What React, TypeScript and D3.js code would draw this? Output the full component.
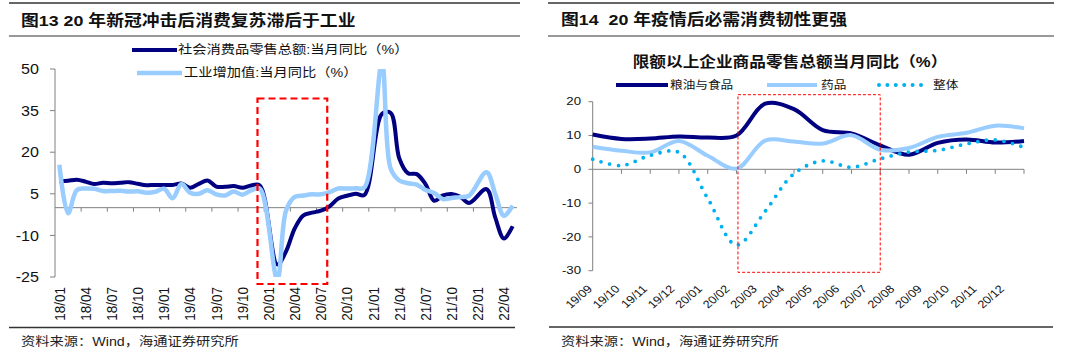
import React from "react";
import * as d3 from "d3";

// ---------- data: left chart ----------
const leftMonths = [
  "18/01","18/02","18/03","18/04","18/05","18/06","18/07","18/08","18/09","18/10","18/11","18/12",
  "19/01","19/02","19/03","19/04","19/05","19/06","19/07","19/08","19/09","19/10","19/11","19/12",
  "20/01","20/02","20/03","20/04","20/05","20/06","20/07","20/08","20/09","20/10","20/11","20/12",
  "21/01","21/02","21/03","21/04","21/05","21/06","21/07","21/08","21/09","21/10","21/11","21/12",
  "22/01","22/02","22/03","22/04","22/05",
];
const retailYoY: (number | null)[] = [
  9.4, 9.7, 10.1, 9.4, 8.5, 9.0, 8.8, 9.0, 9.2, 8.6, 8.1, 8.2,
  null, 8.2, 8.7, 7.2, 8.6, 9.8, 7.6, 7.5, 7.8, 7.2, 8.0, 8.0,
  null, -20.5, -15.8, -7.5, -2.8, -1.8, -1.1, 0.5, 3.3, 4.3, 5.0, 4.6,
  null, 33.8, 34.2, 17.7, 12.4, 12.1, 8.5, 2.5, 4.4, 4.9, 3.9, 1.7,
  null, 6.7, -3.5, -11.1, -6.7,
];
const industryYoY: (number | null)[] = [
  15.5, -2.0, 6.3, 6.9, 6.8, 6.0, 6.0, 6.1, 5.8, 5.9, 5.4, 5.7,
  6.8, 3.4, 8.5, 5.4, 5.0, 6.3, 4.8, 4.4, 5.8, 4.7, 6.2, 6.9,
  null, -25.9, -1.1, 3.9, 4.4, 4.8, 4.8, 5.6, 6.9, 6.9, 7.0, 7.3,
  null, 52.0, 14.1, 9.8, 8.8, 8.3, 6.4, 5.3, 3.1, 3.5, 3.8, 4.3,
  null, 12.8, 5.0, -2.9, 0.7,
];
const leftXTickLabels = [
  "18/01","18/04","18/07","18/10","19/01","19/04","19/07","19/10",
  "20/01","20/04","20/07","20/10","21/01","21/04","21/07","21/10","22/01","22/04",
];
const leftYTicks = [50, 35, 20, 5, -10, -25];
const leftHighlight = ["19/12", "20/08"];

// ---------- data: right chart ----------
const rightMonths = [
  "19/09","19/10","19/11","19/12","20/01","20/02","20/03","20/04",
  "20/05","20/06","20/07","20/08","20/09","20/10","20/11","20/12",
];
const foodYoY = [10.3, 9.0, 9.1, 9.7, 9.4, 10.0, 19.4, 17.8, 11.6, 10.6, 7.1, 4.3, 7.8, 8.8, 7.9, 8.4];
const medicineYoY = [6.7, 5.5, 5.0, 8.4, 4.0, 0.2, 8.5, 8.2, 7.6, 10.1, 5.8, 6.3, 9.6, 10.8, 12.9, 12.1];
const totalYoY = [3.0, 1.1, 4.1, 5.0, -8.6, -22.4, -12.4, -1.3, 2.5, 0.6, 3.1, 5.1, 5.6, 7.5, 8.7, 6.5];
const rightYTicks = [20, 10, 0, -10, -20, -30];
const rightHighlight = ["20/02", "20/07"];

// ---------- style ----------
const S = 1.15; // horizontal stretch of the reference text
const FONT = "'Liberation Sans', Arial, 'Noto Sans CJK SC', sans-serif";
const NAVY = "#000080";
const LIGHT = "#99CCFF";
const CYAN = "#00B0F0";
const AXIS = "#808080";

type TP = {
  x: number; y: number; size: number; anchor?: "start" | "middle" | "end";
  weight?: string | number; rotate?: number; fill?: string; children: React.ReactNode;
};
function Txt({ x, y, size, anchor = "start", weight = "normal", rotate = 0, fill = "#111", children }: TP) {
  const t = `translate(${x},${y}) scale(${S},1)` + (rotate ? ` rotate(${rotate})` : "");
  return (
    <text transform={t} fontSize={size} fontFamily={FONT} fontWeight={weight}
      textAnchor={anchor} dominantBaseline="central" fill={fill} style={{ whiteSpace: "pre" }}>
      {children}
    </text>
  );
}

function LeftChart() {
  const x = d3.scaleBand<string>().domain(leftMonths).range([55, 517]).paddingInner(0).paddingOuter(0);
  const bw = x.bandwidth();
  const cx = (m: string) => (x(m) as number) + bw / 2;
  const y = d3.scaleLinear().domain([-25, 50]).range([277, 69]);
  const line = d3.line<[number, number]>().x(d => d[0]).y(d => d[1]).curve(d3.curveCatmullRom.alpha(0.5));
  const pts = (arr: (number | null)[]) =>
    arr.map((v, i) => (v == null ? null : ([cx(leftMonths[i]), y(v)] as [number, number])))
      .filter(Boolean) as [number, number][];
  const tickIdx = d3.range(3, leftMonths.length, 3);
  const hx0 = x(leftHighlight[0]) as number;
  const hx1 = x(leftHighlight[1]) as number;
  return (
    <g>
      {/* header */}
      <line x1={9} x2={520} y1={3} y2={3} stroke="#333" strokeWidth={1.5} />
      <Txt x={21} y={21} size={15.5} weight="bold">图13 20 年新冠冲击后消费复苏滞后于工业</Txt>
      <line x1={9} x2={520} y1={36} y2={36} stroke="#333" strokeWidth={1.2} />
      {/* legend */}
      <line x1={132} x2={177} y1={50} y2={50} stroke={NAVY} strokeWidth={4} />
      <Txt x={178} y={50} size={12.4}>社会消费品零售总额:当月同比（%）</Txt>
      <line x1={137} x2={182} y1={73} y2={73} stroke={LIGHT} strokeWidth={4.5} />
      <Txt x={184} y={73} size={12.4}>工业增加值:当月同比（%）</Txt>
      {/* y axis */}
      <line x1={55} x2={55} y1={y(50)} y2={y(-25)} stroke={AXIS} strokeWidth={1} />
      {leftYTicks.map(t => (
        <g key={t}>
          <line x1={50} x2={55} y1={y(t)} y2={y(t)} stroke={AXIS} />
          <Txt x={39} y={y(t)} size={14} anchor="end">{t}</Txt>
        </g>
      ))}
      {/* x axis at zero */}
      <line x1={55} x2={517} y1={y(0)} y2={y(0)} stroke={AXIS} strokeWidth={1} />
      {tickIdx.map(i => (
        <line key={i} x1={x(leftMonths[i]) as number} x2={x(leftMonths[i]) as number}
          y1={y(0)} y2={y(0) + 4} stroke={AXIS} />
      ))}
      {leftXTickLabels.map(m => (
        <Txt key={m} x={cx(m)} y={287} size={13.5} anchor="end" rotate={-90}>{m}</Txt>
      ))}
      <defs>
        <clipPath id="lclip"><rect x={55} y={69} width={462} height={208} /></clipPath>
      </defs>
      <g clipPath="url(#lclip)">
        <path d={line(pts(retailYoY)) || ""} fill="none" stroke={NAVY} strokeWidth={4} strokeLinejoin="round" />
        <path d={line(pts(industryYoY)) || ""} fill="none" stroke={LIGHT} strokeWidth={4.5} strokeLinejoin="round" />
      </g>
      <rect x={hx0 + 2} y={98.5} width={hx1 - hx0} height={185.5} fill="none"
        stroke="#FF0000" strokeWidth={2.2} strokeDasharray="7,4" />
      {/* footer */}
      <line x1={9} x2={515} y1={327.5} y2={327.5} stroke="#333" strokeWidth={1.5} />
      <Txt x={21} y={342} size={12.4} fill="#222">资料来源：Wind，海通证券研究所</Txt>
    </g>
  );
}

function RightChart() {
  const x = d3.scalePoint<string>().domain(rightMonths).range([592.7, 1024]);
  const xl = d3.scalePoint<string>().domain(rightMonths).range([590, 1002]);
  const y = d3.scaleLinear().domain([-30, 20]).range([270.7, 101.7]);
  const line = d3.line<number>().x((_, i) => x(rightMonths[i]) as number).y(d => y(d))
    .curve(d3.curveCatmullRom.alpha(0.5));
  const rx0 = x(rightHighlight[0]) as number;
  const rx1 = x(rightHighlight[1]) as number;
  return (
    <g>
      <line x1={548} x2={1054} y1={3} y2={3} stroke="#333" strokeWidth={1.5} />
      <Txt x={561} y={20} size={15.5} weight="bold">图14  20 年疫情后必需消费韧性更强</Txt>
      <line x1={548} x2={1054} y1={36} y2={36} stroke="#333" strokeWidth={1.2} />
      <Txt x={790} y={62} size={14.5} weight="bold" anchor="middle">限额以上企业商品零售总额当月同比（%）</Txt>
      {/* legend */}
      <line x1={616} x2={668} y1={85} y2={85} stroke={NAVY} strokeWidth={4} />
      <Txt x={670} y={85} size={11}>粮油与食品</Txt>
      <line x1={767} x2={817} y1={85} y2={85} stroke={LIGHT} strokeWidth={4} />
      <Txt x={821} y={85} size={11}>药品</Txt>
      <line x1={879} x2={921} y1={85} y2={85} stroke={CYAN} strokeWidth={4}
        strokeDasharray="0,8.4" strokeLinecap="round" />
      <Txt x={933} y={85} size={11}>整体</Txt>
      {/* y axis */}
      <line x1={592.7} x2={592.7} y1={y(20)} y2={y(-30)} stroke={AXIS} />
      {rightYTicks.map(t => (
        <g key={t}>
          <line x1={588.5} x2={592.7} y1={y(t)} y2={y(t)} stroke={AXIS} />
          <Txt x={581} y={y(t)} size={11.5} anchor="end">{t}</Txt>
        </g>
      ))}
      <line x1={592.7} x2={1024} y1={y(0)} y2={y(0)} stroke={AXIS} />
      {rightMonths.slice(1).map(m => (
        <line key={m} x1={x(m) as number} x2={x(m) as number} y1={y(0)} y2={y(0) + 4.5} stroke={AXIS} />
      ))}
      {rightMonths.map(m => (
        <Txt key={m} x={xl(m) as number} y={287} size={11} anchor="end" rotate={-45}>{m}</Txt>
      ))}
      <path d={line(foodYoY) || ""} fill="none" stroke={NAVY} strokeWidth={4} strokeLinejoin="round" />
      <path d={line(medicineYoY) || ""} fill="none" stroke={LIGHT} strokeWidth={4} strokeLinejoin="round" />
      <path d={line(totalYoY) || ""} fill="none" stroke={CYAN} strokeWidth={3.8}
        strokeDasharray="0,8.8" strokeLinecap="round" />
      <rect x={rx0 + 1.5} y={94.7} width={rx1 - rx0 - 1.5} height={177.6} fill="none"
        stroke="#FF0000" strokeWidth={1} strokeDasharray="3,2" />
      <line x1={549} x2={1053} y1={327} y2={327} stroke="#333" strokeWidth={1.5} />
      <Txt x={561} y={342} size={12.4} fill="#222">资料来源：Wind，海通证券研究所</Txt>
    </g>
  );
}

export default function App() {
  return (
    <svg width={1080} height={357} viewBox="0 0 1080 357"
      style={{ position: "absolute", left: 0, top: 0, display: "block", background: "#fff" }}>
      <rect width={1080} height={357} fill="#fff" />
      <LeftChart />
      <RightChart />
    </svg>
  );
}
